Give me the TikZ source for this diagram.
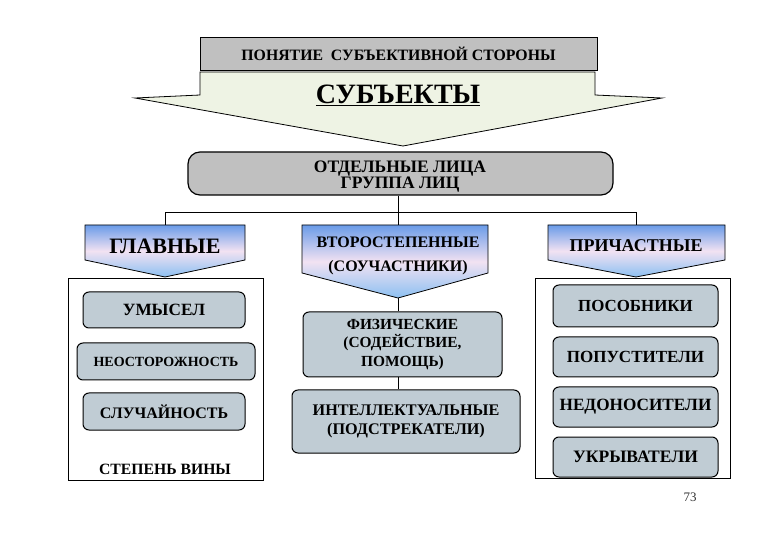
\documentclass[tikz,border=0pt]{standalone}
\usepackage{fontspec}
\setmainfont{Liberation Serif}
\definecolor{topgray}{HTML}{C0C0C0}
\definecolor{arrowfill}{HTML}{EEF3E4}
\definecolor{boxgray}{HTML}{C0CCD4}
\definecolor{hdrtop}{HTML}{6A9BE8}
\definecolor{hdrmid}{HTML}{F2E2F2}
\definecolor{hdrbot}{HTML}{8CC0F2}
\newcommand\fsb[2]{\fontsize{#1}{#2}\selectfont}
\tikzset{
  gbox/.style={draw=black, line width=1pt, rounded corners=6pt, fill=boxgray,
    font=\bfseries\fsb{17}{19}, align=center, inner sep=0pt},
  hdrshape/.style={draw=black, line width=0.8pt, top color=hdrtop, bottom color=hdrbot, middle color=hdrmid},
  hdrtext/.style={align=center, inner sep=0pt},
  frame/.style={draw=black, line width=0.8pt},
  link/.style={draw=black, line width=0.8pt}
}
\begin{document}
\begin{tikzpicture}[x=1pt, y=-1pt]
\useasboundingbox[fill=white] (0,0) rectangle (780,540);

% top title box
\node[draw=black, line width=0.6pt, fill=topgray, minimum width=397pt, minimum height=33pt,
  inner sep=0pt, font=\bfseries\fsb{15.8}{16}] (title) at (398.5,53.5) {ПОНЯТИЕ \ СУБЪЕКТИВНОЙ СТОРОНЫ};

% big arrow
\draw[draw=black, line width=0.8pt, fill=arrowfill]
  (200,72) -- (595,72) -- (595,95) -- (662,98) -- (403,146) -- (135,98) -- (200,95) -- cycle;
\node[font=\bfseries\fsb{28}{28}, inner sep=0pt] (subj) at (398,95) {\underline{СУБЪЕКТЫ}};

% rounded box
\node[draw=black, line width=1.2pt, rounded corners=12pt, fill=topgray, minimum width=425pt,
  minimum height=43pt, inner sep=0pt] (ind) at (400.5,173.5) {};
\node[inner sep=0pt, align=center, font=\bfseries\fsb{17.5}{16}] (indtext) at (400,177)
  {ОТДЕЛЬНЫЕ ЛИЦА\\ГРУППА ЛИЦ};

% headers
\shade[hdrshape] (85,225) -- (245,225) -- (245,260) -- (165,277) -- (85,260) -- cycle;
\coordinate (glT) at (165,225);
\coordinate (glB) at (165,277);
\node[hdrtext, font=\bfseries\fsb{22}{22}] (gl) at (165,246) {ГЛАВНЫЕ};

\shade[hdrshape] (302,225) -- (488,225) -- (488,273) -- (398,298) -- (302,273) -- cycle;
\coordinate (vtT) at (398,225);
\coordinate (vtB) at (398,298);
\node[hdrtext, font=\bfseries\fsb{16}{24}] (vt) at (398,256) {ВТОРОСТЕПЕННЫЕ\\(СОУЧАСТНИКИ)};

\shade[hdrshape] (548,225) -- (725,225) -- (725,260) -- (636,277) -- (548,260) -- cycle;
\coordinate (prT) at (636,225);
\coordinate (prB) at (636,277);
\node[hdrtext, font=\bfseries\fsb{18}{18}] (pr) at (636,246) {ПРИЧАСТНЫЕ};

% tree connectors
\coordinate (bus) at (398,212);
\draw[link] (ind.south -| bus) -- (bus);
\draw[link] (glT) -- (glT |- bus) -- (prT |- bus) -- (prT);
\draw[link] (bus) -- (vtT);

% left frame
\node[frame, minimum width=195pt, minimum height=202pt, inner sep=0pt] (lframe) at (165.5,379) {};
\node[font=\bfseries\fsb{15.7}{16}, inner sep=0pt] (vina) at (165,469) {СТЕПЕНЬ ВИНЫ};
\node[gbox, minimum width=162pt, minimum height=36pt, font=\bfseries\fsb{17.2}{17}] (umysel) at (164,310) {УМЫСЕЛ};
\node[gbox, minimum width=178pt, minimum height=37pt, font=\bfseries\fsb{14}{14}] (neost) at (166,361.5) {НЕОСТОРОЖНОСТЬ};
\node[gbox, minimum width=162pt, minimum height=37pt, font=\bfseries\fsb{16}{16}] (sluch) at (164,411.5) {СЛУЧАЙНОСТЬ};

% middle column
\node[gbox, minimum width=199pt, minimum height=65pt, font=\bfseries\fsb{15.4}{18.5}] (phys) at (402.5,344.5)
  {ФИЗИЧЕСКИЕ\\(СОДЕЙСТВИЕ,\\ПОМОЩЬ)};
\node[gbox, minimum width=228pt, minimum height=63pt, font=\bfseries\fsb{16.2}{19}] (intel) at (406,421.5)
  {ИНТЕЛЛЕКТУАЛЬНЫЕ\\(ПОДСТРЕКАТЕЛИ)};
\draw[link] (vtB) -- (vtB |- phys.north);
\draw[link] (phys.south -| vtB) -- (intel.north -| vtB);

% right frame
\node[frame, minimum width=195pt, minimum height=200pt, inner sep=0pt] (rframe) at (632.5,378) {};
\node[gbox, minimum width=165pt, minimum height=42pt, font=\bfseries\fsb{16.9}{17}] (posob) at (635.5,306) {ПОСОБНИКИ};
\node[gbox, minimum width=165pt, minimum height=40pt, font=\bfseries\fsb{17}{17}] (popust) at (635.5,357) {ПОПУСТИТЕЛИ};
\node[gbox, minimum width=165pt, minimum height=40pt, font=\bfseries\fsb{17.2}{17}] (nedon) at (635.5,407) {НЕДОНОСИТЕЛИ};
\node[gbox, minimum width=165pt, minimum height=40pt, font=\bfseries\fsb{17.5}{17}] (ukryv) at (635.5,457) {УКРЫВАТЕЛИ};

% page number
\node[font=\fsb{13}{13}, text=black!80, inner sep=0pt] (page) at (690,497) {73};
\end{tikzpicture}
\end{document}
